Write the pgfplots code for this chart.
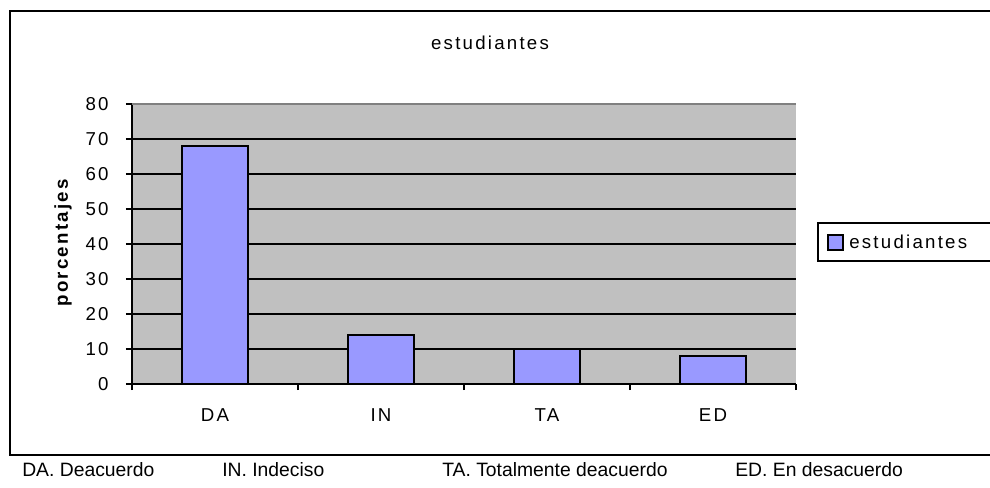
\documentclass[border=0pt]{standalone}
\usepackage{pgfplots}
\pgfplotsset{compat=1.18}
\usepackage{fontspec}
\setmainfont{Liberation Sans}
\newfontfamily\spaced[LetterSpace=12]{Liberation Sans}
\definecolor{barblue}{RGB}{153,153,255}
\definecolor{plotgray}{RGB}{192,192,192}
\definecolor{bordergray}{RGB}{128,128,128}
\begin{document}
\begin{tikzpicture}[x=0.75pt,y=0.75pt]
\useasboundingbox (0,0) rectangle (990,487);
\clip (0,0) rectangle (990,487);
\fill[white] (0,0) rectangle (990,487);
\draw[line width=1.2pt] (10,476) rectangle (1010,32);
\begin{axis}[at={(99pt,77.25pt)}, anchor=south west,
  width=498pt, height=210pt, scale only axis,
  xmin=0, xmax=4, ymin=0, ymax=80,
  axis background/.style={fill=plotgray},
  axis lines=left, axis line style={-, black, line width=0.9pt},
  ytick={0,10,...,80},
  ymajorgrids, major grid style={black, line width=0.9pt},
  xtick={0,1,2,3,4}, xticklabels={,,,,},
  extra x ticks={0.5,1.5,2.5,3.5},
  extra x tick labels={DA,IN,TA,ED},
  extra x tick style={major tick length=0pt, grid=none, xticklabel style={yshift=-15pt}},
  tick align=outside, major tick length=4.5pt,
  tick style={black, line width=0.9pt},
  ticklabel style={font=\spaced\fontsize{14}{16}\selectfont},
  /pgf/number format/assume math mode=true,
  yticklabel style={xshift=-9.5pt},
  ybar, bar width=49.5pt,
  clip=false,
]
\addplot[fill=barblue, draw=black, line width=0.9pt] coordinates {(0.5,68) (1.5,14) (2.5,10) (3.5,8)};
\draw[bordergray, line width=0.9pt] (rel axis cs:0,1) -- (rel axis cs:1,1);
\end{axis}
\node[font=\spaced\fontsize{14}{16}\selectfont] at (490,444) {estudiantes};
\node[font=\bfseries\spaced\fontsize{14}{16}\selectfont, rotate=90] at (63,244) {porcentajes};
% legend box
\draw[line width=1pt, fill=white] (818,264) rectangle (1010,226);
\draw[line width=0.9pt, fill=barblue] (828,252) rectangle (843,237);
\node[anchor=west, font=\spaced\fontsize{14}{16}\selectfont, inner sep=0pt] at (849,245) {estudiantes};
% bottom notes
\begin{scope}[every node/.style={anchor=west, inner sep=0pt, font=\fontsize{14.5}{16}\selectfont}]
\node at (22,17) {DA. Deacuerdo};
\node at (222,17) {IN. Indeciso};
\node at (442,17) {TA. Totalmente deacuerdo};
\node at (735,17) {ED. En desacuerdo};
\end{scope}
\end{tikzpicture}
\end{document}
